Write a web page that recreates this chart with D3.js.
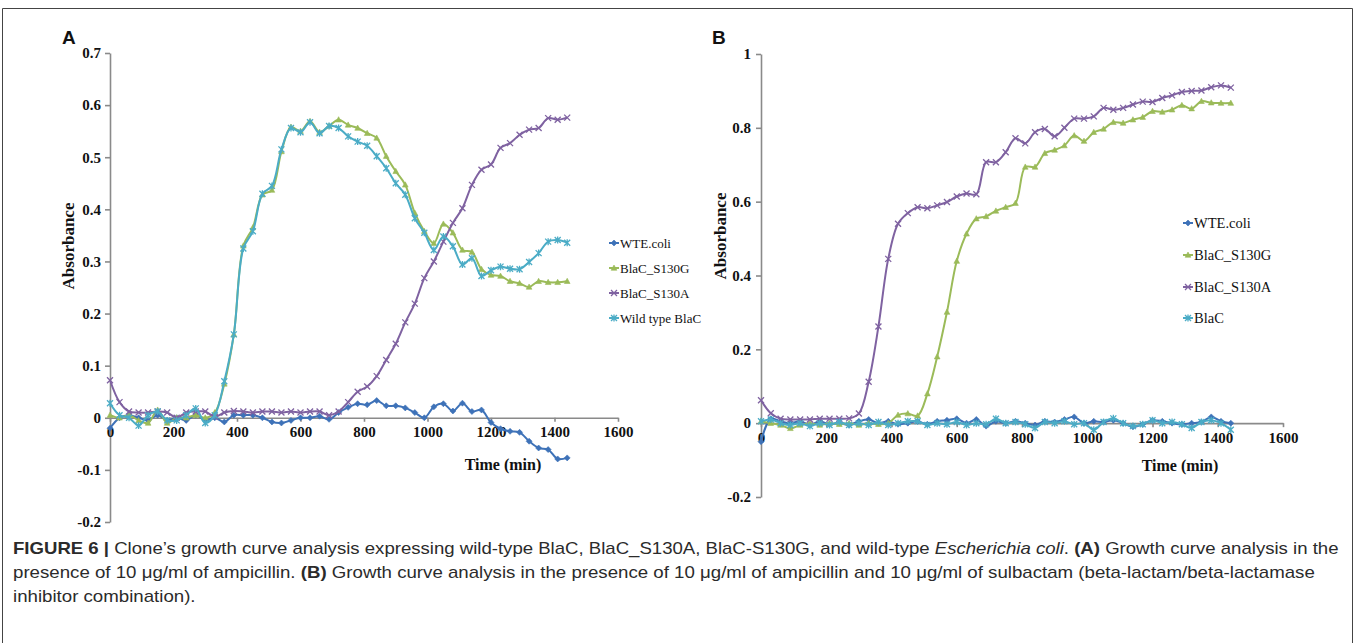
<!DOCTYPE html>
<html>
<head>
<meta charset="utf-8">
<script src="https://cdn.jsdelivr.net/npm/d3@7"></script>
<style>
  body { margin: 0; background: #fff; }
  svg text { font-family: "Liberation Serif", "Times New Roman", serif; }
</style>
</head>
<body>
<svg id="fig" width="1355" height="643"></svg>
<script>
// sampling times (min), every 30 min
var times = [0,30,60,90,120,150,180,210,240,270,300,330,360,390,420,450,480,510,540,570,
             600,630,660,690,720,750,780,810,840,870,900,930,960,990,1020,1050,1080,1110,1140,1170,
             1200,1230,1260,1290,1320,1350,1380,1410,1440];

var xTicks = [0,200,400,600,800,1000,1200,1400,1600];
var aYTicks = [-0.2,-0.1,0,0.1,0.2,0.3,0.4,0.5,0.6,0.7];
var bYTicks = [-0.2,0,0.2,0.4,0.6,0.8,1];

var aLabels = ["WTE.coli", "BlaC_S130G", "BlaC_S130A", "Wild type BlaC"];
var bLabels = ["WTE.coli", "BlaC_S130G", "BlaC_S130A", "BlaC"];

// panel A: ampicillin
var a_wtEcoli = [-0.02,0.0,0.005,0.0,-0.005,0.005,-0.005,0.0,-0.005,0.005,
  -0.005,0.0,-0.008,0.005,0.005,0.005,0.0,-0.008,-0.01,-0.005,
  0.0,0.0,0.003,-0.003,0.01,0.02,0.027,0.025,0.033,0.023,
  0.023,0.019,0.01,0.0,0.021,0.027,0.013,0.028,0.012,0.015,
  -0.009,-0.021,-0.026,-0.028,-0.045,-0.058,-0.061,-0.079,-0.077];
var a_s130g = [0.005,0.0,0.005,-0.005,-0.01,0.015,-0.01,0.0,0.0,0.005,
  0.0,0.01,0.065,0.16,0.33,0.365,0.428,0.437,0.511,0.558,
  0.55,0.569,0.548,0.56,0.572,0.562,0.556,0.546,0.537,0.502,
  0.473,0.447,0.393,0.358,0.335,0.372,0.355,0.322,0.318,0.285,
  0.274,0.272,0.262,0.258,0.251,0.262,0.26,0.26,0.262];
var a_s130a = [0.072,0.03,0.012,0.01,0.01,0.012,0.01,0.0,0.01,0.012,
  0.012,0.002,0.01,0.013,0.012,0.01,0.012,0.012,0.01,0.012,
  0.01,0.012,0.012,0.005,0.012,0.03,0.05,0.06,0.08,0.111,
  0.142,0.183,0.219,0.268,0.3,0.338,0.374,0.402,0.447,0.476,
  0.486,0.518,0.527,0.543,0.553,0.556,0.575,0.572,0.576];
var a_wtBlac = [0.028,0.005,0.0,-0.015,0.005,0.012,-0.005,-0.005,0.005,0.018,
  -0.01,0.005,0.07,0.16,0.325,0.358,0.43,0.445,0.515,0.556,
  0.548,0.567,0.546,0.56,0.556,0.54,0.53,0.522,0.502,0.479,
  0.45,0.428,0.383,0.355,0.322,0.348,0.329,0.294,0.306,0.272,
  0.283,0.29,0.286,0.285,0.299,0.316,0.338,0.341,0.336];

// panel B: ampicillin + sulbactam
var b_wtEcoli = [-0.05,0.012,0.005,0.0,0.005,-0.005,0.005,-0.003,0.0,-0.005,
  0.005,0.01,0.0,0.005,-0.003,0.0,0.005,-0.003,0.005,0.008,
  0.012,0.0,0.01,-0.008,0.005,0.0,0.005,0.0,-0.005,0.005,
  0.003,0.01,0.017,0.0,0.005,0.003,0.008,0.0,-0.01,-0.003,
  0.008,0.005,0.0,-0.003,0.0,0.003,0.017,0.005,0.0];
var b_s130g = [0.005,0.0,-0.005,-0.014,-0.005,0.0,-0.005,0.0,-0.003,0.0,
  -0.005,0.0,-0.003,0.0,0.022,0.026,0.02,0.08,0.18,0.301,
  0.439,0.513,0.554,0.56,0.575,0.585,0.596,0.694,0.694,0.731,
  0.74,0.752,0.779,0.764,0.788,0.797,0.815,0.813,0.822,0.829,
  0.845,0.843,0.849,0.861,0.852,0.872,0.868,0.867,0.867];
var b_s130a = [0.062,0.027,0.012,0.01,0.01,0.01,0.012,0.012,0.012,0.013,
  0.026,0.112,0.262,0.445,0.54,0.569,0.585,0.582,0.59,0.599,
  0.614,0.622,0.62,0.707,0.707,0.734,0.772,0.758,0.788,0.797,
  0.777,0.8,0.825,0.825,0.831,0.854,0.849,0.854,0.863,0.871,
  0.87,0.881,0.888,0.897,0.9,0.901,0.91,0.915,0.909];
var b_blac = [0.005,0.01,0.0,-0.005,0.0,-0.008,0.0,-0.005,0.003,-0.005,
  0.0,-0.005,0.003,-0.005,0.0,0.005,0.005,-0.005,0.0,-0.003,
  0.003,-0.005,0.0,-0.003,0.012,0.0,0.003,-0.003,-0.013,0.003,
  0.0,0.005,-0.003,0.0,-0.018,0.003,0.013,0.0,-0.008,-0.003,
  0.008,0.0,0.003,-0.003,-0.013,0.003,0.008,0.0,-0.018];

var captionLines = [
  [["FIGURE 6 |", "b"], [" Clone\u2019s growth curve analysis expressing wild-type BlaC, BlaC_S130A, BlaC-S130G, and wild-type ", ""],
   ["Escherichia coli", "i"], [". ", ""], ["(A)", "b"], [" Growth curve analysis in the", ""]],
  [["presence of 10 \u03bcg/ml of ampicillin. ", ""], ["(B)", "b"],
   [" Growth curve analysis in the presence of 10 \u03bcg/ml of ampicillin and 10 \u03bcg/ml of sulbactam (beta-lactam/beta-lactamase", ""]],
  [["inhibitor combination).", ""]]
];

var colors = ["#3e72b8", "#9bbb59", "#7f62a1", "#4bacc6"];
var shapes = ["diamond", "triangle", "x", "star"];

var svg = d3.select("#fig");

// outer frame
svg.append("path")
  .attr("d", "M2.5,643V8.5H1352.5V643")
  .attr("fill", "none")
  .attr("stroke", "#444")
  .attr("stroke-width", 1);

function markerPath(shape, r) {
  if (shape == "diamond") return "M0," + (-r) + "L" + r + ",0L0," + r + "L" + (-r) + ",0Z";
  if (shape == "triangle") return "M0," + (-r) + "L" + (r * 0.95) + "," + (r * 0.75) + "L" + (-r * 0.95) + "," + (r * 0.75) + "Z";
  var p = "M" + (-r) + "," + (-r) + "L" + r + "," + r + "M" + (-r) + "," + r + "L" + r + "," + (-r);
  if (shape == "star") p += "M0," + (-r - 0.5) + "V" + (r + 0.5);
  return p;
}

function drawMarkers(sel, shape, color, r) {
  var filled = (shape == "diamond" || shape == "triangle");
  sel.attr("d", markerPath(shape, r))
    .attr("fill", filled ? color : "none")
    .attr("stroke", color)
    .attr("stroke-width", filled ? 0.6 : 1.3);
}

function drawPanel(p) {
  var x = d3.scaleLinear().domain([0, 1600]).range([p.x0, p.x1]);
  var y = d3.scaleLinear().domain([p.yTicks[0], p.yTicks[p.yTicks.length - 1]]).range([p.yBottom, p.yTop]);
  var g = svg.append("g");

  var yAxis = d3.axisLeft(y)
    .tickValues(p.yTicks)
    .tickSize(5)
    .tickSizeOuter(0)
    .tickPadding(p.yPad)
    .tickFormat(function (d) { return String(d); });
  var ya = g.append("g")
    .attr("transform", "translate(" + p.x0 + ",0)")
    .call(yAxis);

  var xAxis = d3.axisBottom(x)
    .tickValues(xTicks)
    .tickSize(4)
    .tickSizeOuter(0)
    .tickPadding(5)
    .tickFormat(d3.format("d"));
  var xa = g.append("g")
    .attr("transform", "translate(0," + y(0) + ")")
    .call(xAxis);

  [ya, xa].forEach(function (a) {
    a.selectAll("path, line").attr("stroke", "#8a8a8a").attr("stroke-width", 1.6);
    a.selectAll("text")
      .attr("fill", "#111")
      .style("font-family", "'Liberation Serif', serif")
      .style("font-weight", "bold")
      .style("font-size", "15px");
  });

  g.append("text")
    .attr("transform", "translate(" + p.yLabelX + "," + p.yLabelY + ") rotate(-90)")
    .attr("text-anchor", "middle")
    .attr("fill", "#111")
    .style("font-weight", "bold")
    .style("font-size", "17px")
    .text("Absorbance");

  g.append("text")
    .attr("x", p.xLabelX)
    .attr("y", p.xLabelY)
    .attr("text-anchor", "middle")
    .attr("fill", "#111")
    .style("font-weight", "bold")
    .style("font-size", "16px")
    .text("Time (min)");

  g.append("text")
    .attr("x", p.letterX)
    .attr("y", 44)
    .attr("fill", "#111")
    .style("font-family", "'Liberation Sans', Arial, sans-serif")
    .style("font-weight", "bold")
    .style("font-size", "19px")
    .text(p.letter);

  var line = d3.line()
    .x(function (d) { return x(d[0]); })
    .y(function (d) { return y(d[1]); })
    .curve(d3.curveCatmullRom.alpha(0.5));

  p.series.forEach(function (vals, i) {
    var pts = times.map(function (t, k) { return [t, vals[k]]; });
    var s = g.append("g");
    s.append("path")
      .datum(pts)
      .attr("fill", "none")
      .attr("stroke", colors[i])
      .attr("stroke-width", 2)
      .attr("d", line);
    s.selectAll(".mk")
      .data(pts)
      .enter().append("path")
      .attr("class", "mk")
      .attr("transform", function (d) { return "translate(" + x(d[0]) + "," + y(d[1]) + ")"; })
      .call(drawMarkers, shapes[i], colors[i], 3);
  });

  // legend
  var lg = g.append("g");
  p.labels.forEach(function (lab, i) {
    var ly = p.legendY[i];
    lg.append("line")
      .attr("x1", p.legendX - 5).attr("x2", p.legendX + 5)
      .attr("y1", ly).attr("y2", ly)
      .attr("stroke", colors[i]).attr("stroke-width", 2);
    lg.append("path")
      .attr("transform", "translate(" + p.legendX + "," + ly + ")")
      .call(drawMarkers, shapes[i], colors[i], 3);
    lg.append("text")
      .attr("x", p.legendX + 6)
      .attr("y", ly)
      .attr("dy", "0.35em")
      .attr("fill", "#111")
      .style("font-size", p.legendFont)
      .text(lab);
  });
}

drawPanel({
  letter: "A", letterX: 62,
  x0: 110, x1: 618, yTop: 53, yBottom: 522, yTicks: aYTicks, yPad: 4,
  yLabelX: 74, yLabelY: 246, xLabelX: 503, xLabelY: 470,
  series: [a_wtEcoli, a_s130g, a_s130a, a_wtBlac],
  labels: aLabels, legendX: 614, legendY: [243, 268, 293, 318], legendFont: "13px"
});

drawPanel({
  letter: "B", letterX: 712,
  x0: 761, x1: 1283, yTop: 54, yBottom: 497, yTicks: bYTicks, yPad: 5,
  yLabelX: 726, yLabelY: 236, xLabelX: 1180, xLabelY: 471,
  series: [b_wtEcoli, b_s130g, b_s130a, b_blac],
  labels: bLabels, legendX: 1188, legendY: [223, 255, 287, 318], legendFont: "14.5px"
});

// caption
var capWidths = [1327, 1303];
var capScale = 1;
captionLines.forEach(function (parts, li) {
  var t = svg.append("text")
    .attr("fill", "#2b2b2b")
    .style("font-family", "'Liberation Sans Narrow', 'Liberation Sans', Arial, sans-serif")
    .style("font-size", "16px");
  parts.forEach(function (pt) {
    t.append("tspan")
      .style("font-weight", pt[1] == "b" ? "bold" : "normal")
      .style("font-style", pt[1] == "i" ? "italic" : "normal")
      .text(pt[0]);
  });
  var w = t.node().getComputedTextLength();
  if (li < capWidths.length) capScale = capWidths[li] / w;
  t.attr("transform", "translate(13," + (554 + li * 24) + ") scale(" + capScale + ",1)");
});
</script>
</body>
</html>
